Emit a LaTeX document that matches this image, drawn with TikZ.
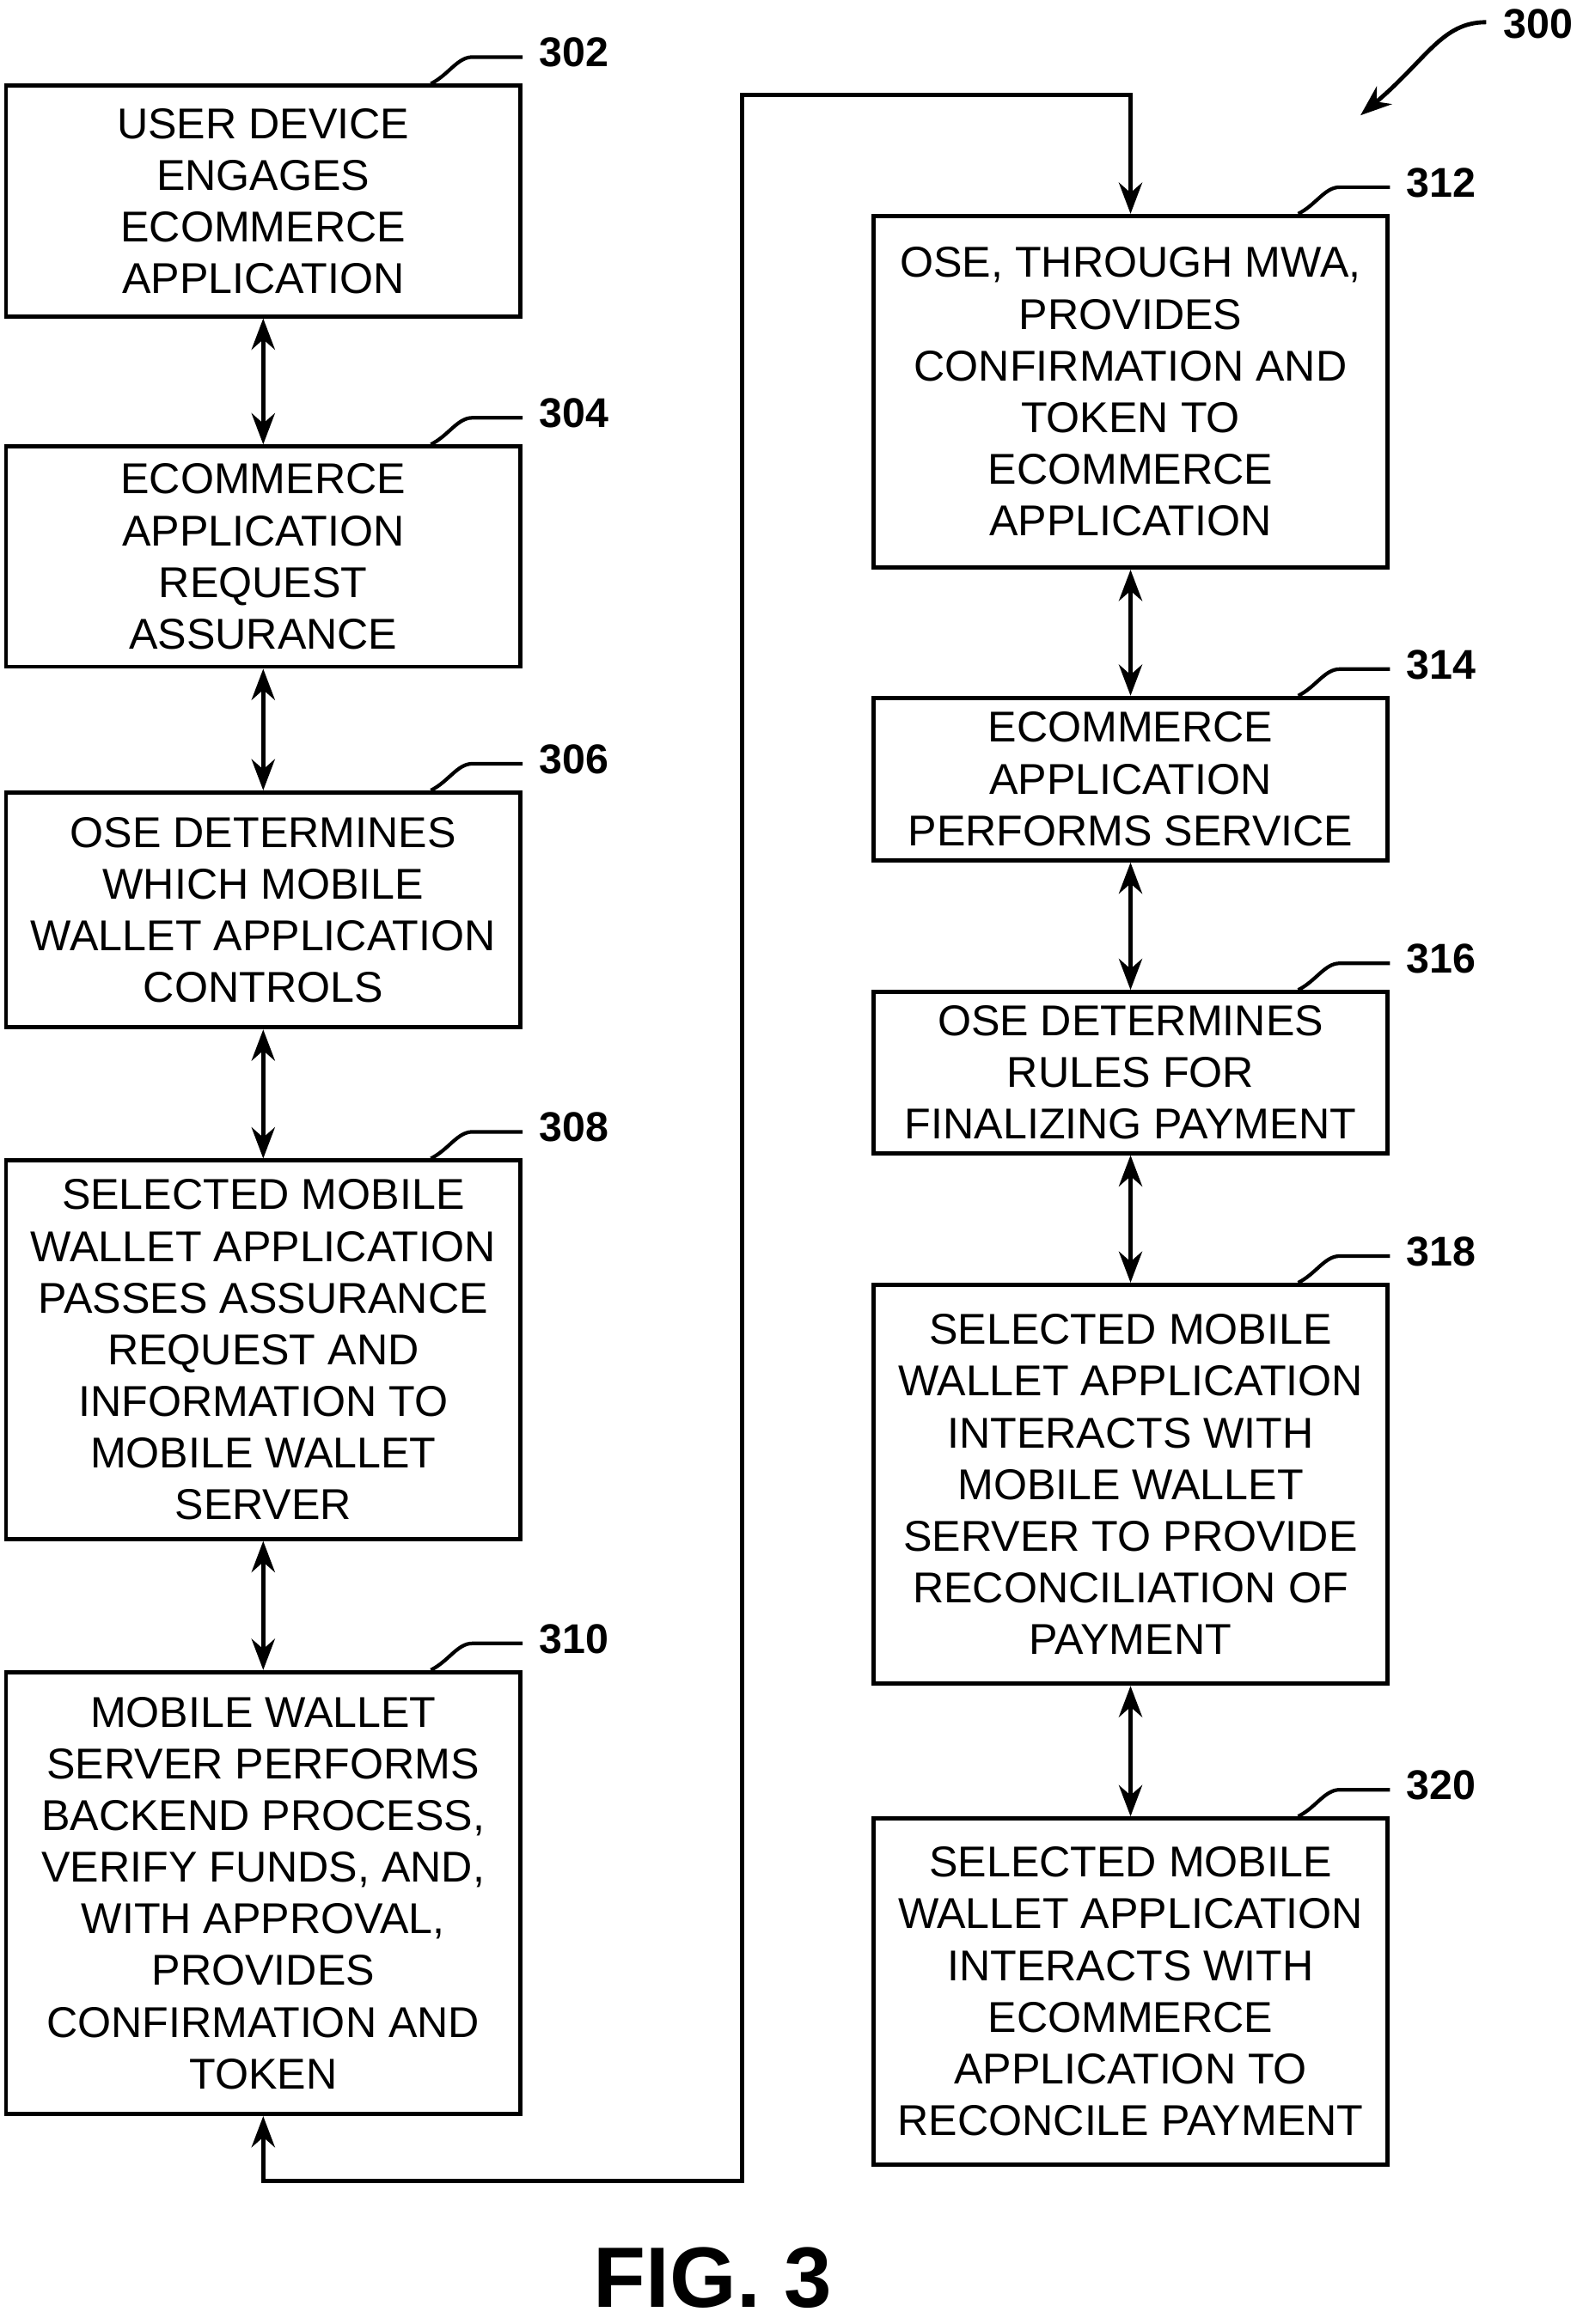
\documentclass[tikz,border=0pt]{standalone}
\usepackage{fontspec}
\setmainfont{Liberation Sans}
\usetikzlibrary{arrows.meta}
\begin{document}
\begin{tikzpicture}[x=0.02cm,y=-0.02cm,<->,>={Stealth[length=12pt,width=9pt]},line width=1.6pt]
            \tikzset{pbox/.style={draw, rectangle, align=center, inner sep=0pt, minimum width=6.96cm,
                font=\fontsize{16.6}{19.9}\selectfont},
              ref/.style={font=\fontsize{16}{19}\selectfont\bfseries, anchor=west, inner sep=0pt},
              lead/.style={-, line width=1.4pt}}
            \useasboundingbox (0,0) rectangle (1070,1572);
            \node[pbox, minimum height=3.12cm] (b302) at (178,136) {USER DEVICE\\ENGAGES\\ECOMMERCE\\APPLICATION};
            \node[pbox, minimum height=2.98cm] (b304) at (178,376.5) {ECOMMERCE\\APPLICATION\\REQUEST\\ASSURANCE};
            \node[pbox, minimum height=3.18cm] (b306) at (178,615.5) {OSE DETERMINES\\WHICH MOBILE\\WALLET APPLICATION\\CONTROLS};
            \node[pbox, minimum height=5.12cm] (b308) at (178,913) {SELECTED MOBILE\\WALLET APPLICATION\\PASSES ASSURANCE\\REQUEST AND\\INFORMATION TO\\MOBILE WALLET\\SERVER};
            \node[pbox, minimum height=5.98cm] (b310) at (178,1280.5) {MOBILE WALLET\\SERVER PERFORMS\\BACKEND PROCESS,\\VERIFY FUNDS, AND,\\WITH APPROVAL,\\PROVIDES\\CONFIRMATION AND\\TOKEN};
            \node[pbox, minimum height=4.76cm] (b312) at (764.5,265) {OSE, THROUGH MWA,\\PROVIDES\\CONFIRMATION AND\\TOKEN TO\\ECOMMERCE\\APPLICATION};
            \node[pbox, minimum height=2.2cm] (b314) at (764.5,527) {ECOMMERCE\\APPLICATION\\PERFORMS SERVICE};
            \node[pbox, minimum height=2.18cm] (b316) at (764.5,725.5) {OSE DETERMINES\\RULES FOR\\FINALIZING PAYMENT};
            \node[pbox, minimum height=5.4cm] (b318) at (764.5,1004) {SELECTED MOBILE\\WALLET APPLICATION\\INTERACTS WITH\\MOBILE WALLET\\SERVER TO PROVIDE\\RECONCILIATION OF\\PAYMENT};
            \node[pbox, minimum height=4.68cm] (b320) at (764.5,1347) {SELECTED MOBILE\\WALLET APPLICATION\\INTERACTS WITH\\ECOMMERCE\\APPLICATION TO\\RECONCILE PAYMENT};
            % reference numerals with leaders
            \foreach \b/\n in {b302/302, b304/304, b306/306, b308/308, b310/310,
                               b312/312, b314/314, b316/316, b318/318, b320/320} {
              \node[ref] (l\n) at ([shift={(10,-21)}]\b.north east) {\n};
              \draw[lead] ([xshift=-62*0.02cm]\b.north east) .. controls ([shift={(-50,-6)}]\b.north east) and ([shift={(-44,-18)}]\b.north east) .. ([shift={(-34,-18)}]\b.north east) -- ([yshift=18*0.02cm]\b.north east);
            }
            % flow
            \foreach \a/\c in {b302/b304, b304/b306, b306/b308, b308/b310, b312/b314, b314/b316, b316/b318, b318/b320}
              \draw (\a) -- (\c);
            \coordinate (t1) at (178,1475);
            \coordinate (t2) at (502,1475);
            \coordinate (t3) at (502,64);
            \coordinate (t4) at (764.5,64);
            \draw (b310.south) -- (t1) -- (t2) -- (t3) -- (t4) -- (b312.north);
            % figure label
            \node[ref, anchor=center] (l300) at (1040,16) {300};
            \coordinate (p300) at (1005,15);
            \draw[->] (p300) .. controls (975,15) and (965,40) .. (920,78);
            \node[font=\fontsize{33}{33}\selectfont\bfseries] (fig) at (482,1541) {FIG. 3};
\end{tikzpicture}
\end{document}
